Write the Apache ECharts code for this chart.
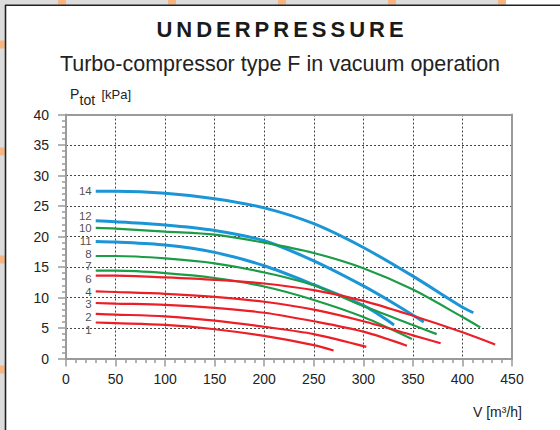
<!DOCTYPE html>
<html>
<head>
<meta charset="utf-8">
<script src="https://cdn.jsdelivr.net/npm/echarts/dist/echarts.min.js"></script>
<style>
html,body{margin:0;padding:0;background:#fff;}
#c{width:560px;height:430px;}
</style>
</head>
<body>
<div id="c"></div>
<script>
// ---------- data ----------
const xTicks = [0, 50, 100, 150, 200, 250, 300, 350, 400, 450];
const yTicks = [0, 5, 10, 15, 20, 25, 30, 35, 40];

const curveNames = ['14', '12', '10', '11', '8', '7', '6', '4', '3', '2', '1'];

const curve14 = [[30,27.4],[50,27.4],[100,27.1],[150,26.2],[200,24.7],[250,22.1],[300,18.2],[350,13.5],[400,8.4],[411,7.5]];
const curve12 = [[30,22.6],[50,22.4],[100,21.9],[150,21.0],[200,19.3],[250,16.0],[300,11.9],[330,9.1],[361,6.0]];
const curve10 = [[30,21.4],[50,21.3],[100,20.8],[150,20.3],[200,19.0],[250,17.3],[300,14.8],[350,11.3],[400,6.8],[418,5.1]];
const curve11 = [[30,19.2],[50,19.1],[100,18.6],[150,17.4],[200,15.2],[250,12.1],[300,8.7],[331,5.5]];
const curve8  = [[30,16.8],[50,16.8],[100,16.4],[150,15.6],[200,14.1],[250,12.0],[300,8.6],[350,5.5],[374,4.0]];
const curve7  = [[30,14.4],[50,14.4],[100,14.0],[150,13.2],[200,11.8],[250,9.6],[300,6.8],[349,3.2]];
const curve6  = [[30,13.6],[50,13.6],[100,13.3],[150,12.9],[200,12.3],[250,11.2],[300,9.45],[350,7.0],[400,4.3],[433,2.3]];
const curve4  = [[30,11.0],[50,10.9],[100,10.6],[150,10.1],[200,9.3],[250,8.0],[300,6.1],[350,3.8],[378,2.5]];
const curve3  = [[30,9.1],[50,9.0],[100,8.8],[150,8.3],[200,7.5],[250,6.1],[300,4.4],[344,2.1]];
const curve2  = [[30,7.3],[50,7.2],[100,6.9],[150,6.2],[200,5.2],[250,4.0],[303,1.9]];
const curve1  = [[30,5.9],[50,5.8],[100,5.5],[150,4.8],[200,3.7],[250,2.2],[270,1.3]];

const curveData = {
  '14': curve14, '12': curve12, '10': curve10, '11': curve11, '8': curve8,
  '7': curve7, '6': curve6, '4': curve4, '3': curve3, '2': curve2, '1': curve1
};

// ---------- styles ----------
const FONT = "'Liberation Sans', Arial, Helvetica, sans-serif";
const BLUE = '#1b95d6', GREEN = '#1d9c47', RED = '#ec1f27';
const curveStyle = {
  '14': [BLUE, 3], '12': [BLUE, 3], '11': [BLUE, 3],
  '10': [GREEN, 2.2], '8': [GREEN, 2.2], '7': [GREEN, 2.2],
  '6': [RED, 2.2], '4': [RED, 2.2], '3': [RED, 2.2], '2': [RED, 2.2], '1': [RED, 2.2]
};
// pixel nudges of the curve-number labels relative to each curve start
const labelDy = { '14': 0, '12': -5.1, '10': 0.3, '11': -0.4, '8': -2.5, '7': -4.5, '6': 3.4, '4': 0.2, '3': 1.3, '2': 3.0, '1': 7.0 };

const chart = echarts.init(document.getElementById('c'), null, { renderer: 'svg' });

const lineSeries = curveNames.map(n => ({
  name: n,
  type: 'line',
  data: curveData[n],
  smooth: 0.3,
  showSymbol: false,
  symbol: 'none',
  lineStyle: { color: curveStyle[n][0], width: curveStyle[n][1], cap: 'butt' },
  z: 3,
  silent: true,
  animation: false
}));

const labelSeries = {
  type: 'scatter',
  symbolSize: 0,
  silent: true,
  animation: false,
  z: 4,
  data: curveNames.map(n => ({
    name: n,
    value: curveData[n][0],
    label: {
      show: true, position: 'left', distance: 4, offset: [0, labelDy[n]],
      formatter: '{b}', color: '#1a1a1a', fontSize: 11.5, lineHeight: 10, fontFamily: FONT
    }
  }))
};

const deco = [];
deco.push({ type: 'rect', shape: { x: 0, y: 0, width: 506, height: 5 }, style: { fill: '#dcdcdc' }, z: 0 });
deco.push({ type: 'rect', shape: { x: 0, y: 0, width: 5, height: 430 }, style: { fill: '#dcdcdc' }, z: 0 });
[62, 172, 282, 392, 502].forEach(cx => deco.push({ type: 'rect', shape: { x: cx - 4, y: 0, width: 8, height: 4.5 }, style: { fill: '#f8b37e' }, z: 1 }));
[44.5, 151.5, 259.5, 369.5].forEach(cy => deco.push({ type: 'rect', shape: { x: 0, y: cy - 4, width: 4.5, height: 8 }, style: { fill: '#f8b37e' }, z: 1 }));
deco.push({ type: 'line', shape: { x1: 5.5, y1: 5, x2: 5.5, y2: 430 }, style: { stroke: '#222', lineWidth: 1.6 }, z: 2 });
deco.push({ type: 'line', shape: { x1: 5, y1: 5.2, x2: 560, y2: 5.2 }, style: { stroke: '#222', lineWidth: 1.6 }, z: 2 });
deco.push({ type: 'text', x: 70, y: 94.2, style: { text: 'P', fontSize: 14, fontFamily: FONT, fill: '#222', verticalAlign: 'middle', align: 'left' }, z: 5 });
deco.push({ type: 'text', x: 79.5, y: 99.8, style: { text: 'tot', fontSize: 14, fontFamily: FONT, fill: '#222', verticalAlign: 'middle', align: 'left' }, z: 5 });
deco.push({ type: 'text', x: 101.5, y: 94.5, style: { text: '[kPa]', fontSize: 13, fontFamily: FONT, fill: '#222', verticalAlign: 'middle', align: 'left' }, z: 5 });
deco.push({ type: 'text', x: 473, y: 412, style: { text: 'V [m³/h]', fontSize: 14, fontFamily: FONT, fill: '#222', verticalAlign: 'middle', align: 'left' }, z: 5 });

const axisGrey = '#9a9a9a';

const option = {
  animation: false,
  backgroundColor: '#ffffff',
  textStyle: { fontFamily: FONT },
  title: [
    { text: 'UNDERPRESSURE', left: 'center', top: 18, padding: 0,
      textStyle: { fontFamily: FONT, fontSize: 22, fontWeight: 'bold', color: '#1a1a1a' } },
    { text: 'Turbo-compressor type F in vacuum operation', left: 'center', top: 53, padding: 0,
      textStyle: { fontFamily: FONT, fontSize: 21.5, fontWeight: 'normal', color: '#222' } }
  ],
  grid: { left: 66, right: 48, top: 114.5, bottom: 71.5, containLabel: false },
  xAxis: [
    {
      type: 'value', min: xTicks[0], max: xTicks[xTicks.length - 1], interval: xTicks[1] - xTicks[0],
      axisLine: { show: true, lineStyle: { color: axisGrey, width: 2 } },
      axisTick: { show: true, length: 8, lineStyle: { color: axisGrey, width: 1.5 } },
      minorTick: { show: true, splitNumber: 5, length: 4.5, lineStyle: { color: axisGrey, width: 1.5 } },
      axisLabel: { margin: 13, fontSize: 14, color: '#222', fontFamily: FONT },
      splitLine: { show: true, showMinLine: false, showMaxLine: false, lineStyle: { type: [2, 2], color: '#444', width: 1 } },
      minorSplitLine: { show: false }
    },
    {
      type: 'value', position: 'top', min: xTicks[0], max: xTicks[xTicks.length - 1], interval: xTicks[1] - xTicks[0],
      axisLine: { show: true, onZero: false, lineStyle: { color: axisGrey, width: 2 } },
      axisTick: { show: false }, axisLabel: { show: false }, splitLine: { show: false }, z: 5
    }
  ],
  yAxis: [
    {
      type: 'value', min: yTicks[0], max: yTicks[yTicks.length - 1], interval: yTicks[1] - yTicks[0],
      axisLine: { show: true, lineStyle: { color: axisGrey, width: 2 } },
      axisTick: { show: true, length: 8, lineStyle: { color: axisGrey, width: 1.5 } },
      minorTick: { show: true, splitNumber: 5, length: 4, lineStyle: { color: axisGrey, width: 1.5 } },
      axisLabel: { margin: 17, fontSize: 14, color: '#222', fontFamily: FONT },
      splitLine: { show: true, showMinLine: false, showMaxLine: false, lineStyle: { type: [2, 2], color: '#444', width: 1 } },
      minorSplitLine: { show: false }
    },
    {
      type: 'value', position: 'right', min: yTicks[0], max: yTicks[yTicks.length - 1], interval: yTicks[1] - yTicks[0],
      axisLine: { show: true, onZero: false, lineStyle: { color: axisGrey, width: 2 } },
      axisTick: { show: false }, axisLabel: { show: false }, splitLine: { show: false }, z: 5
    }
  ],
  graphic: deco,
  series: lineSeries.concat([labelSeries])
};

chart.setOption(option);

// letter-spaced heading (SVG text attribute)
function spaceHeading() {
  document.querySelectorAll('#c svg text').forEach(t => {
    if (t.textContent === 'UNDERPRESSURE' && !t.dataset.spaced) {
      t.dataset.spaced = '1';
      t.setAttribute('letter-spacing', '4');
      t.style.letterSpacing = '4px';
      t.setAttribute('transform', (t.getAttribute('transform') || '') + ' translate(2,0)');
    }
  });
}
spaceHeading();
chart.on('finished', spaceHeading);
setTimeout(spaceHeading, 50);
</script>
</body>
</html>
